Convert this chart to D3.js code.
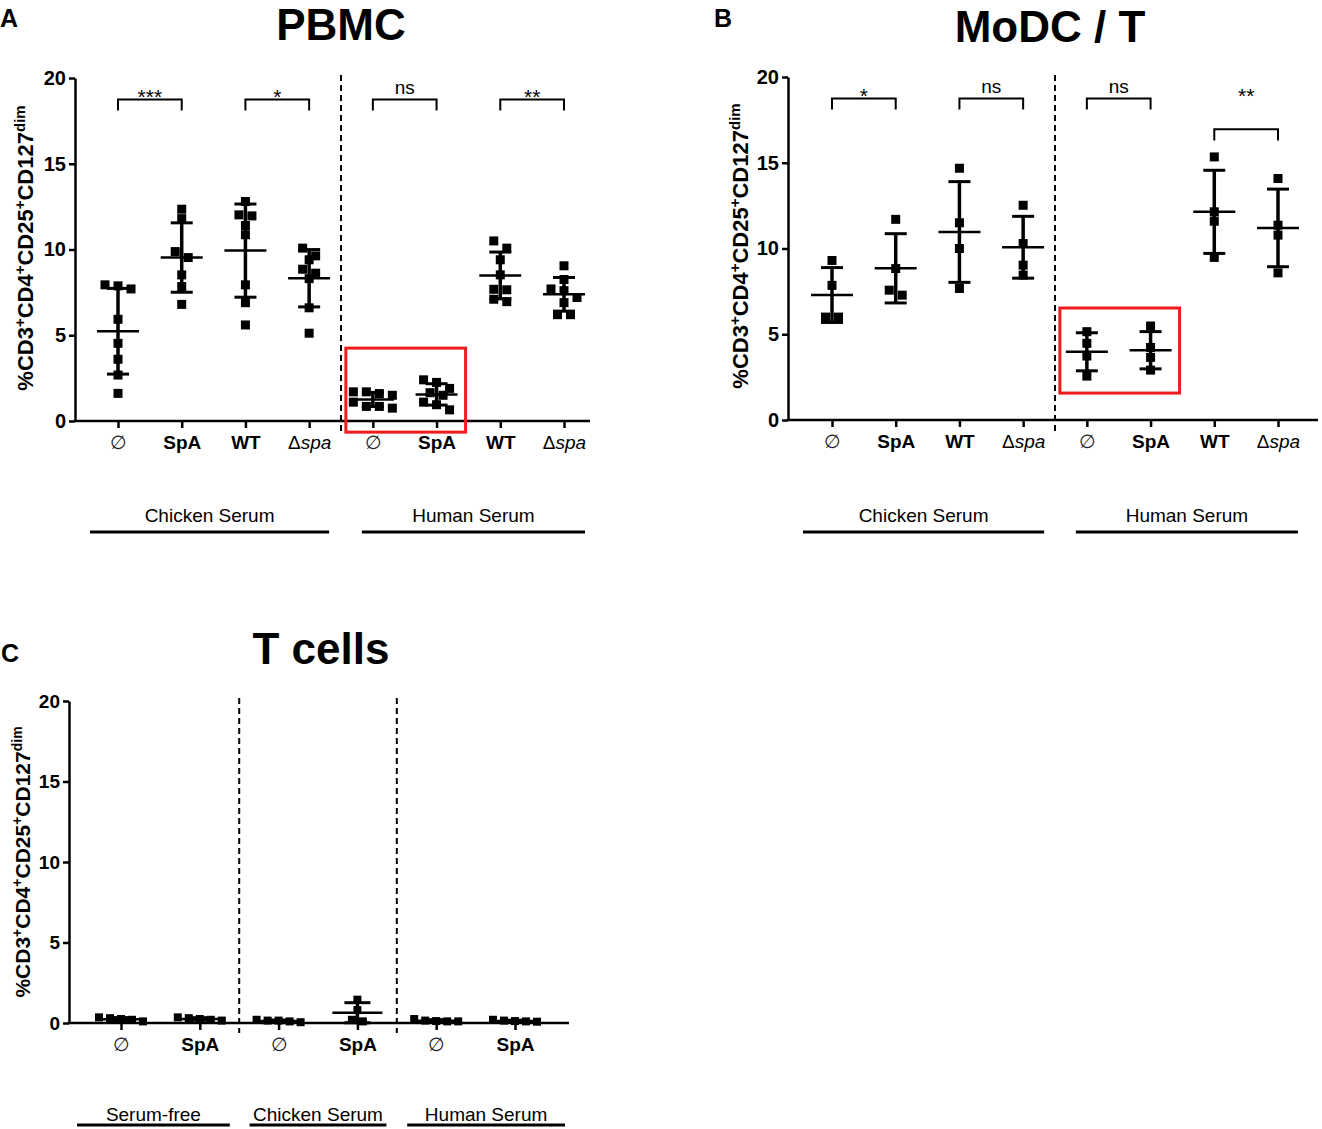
<!DOCTYPE html>
<html>
<head>
<meta charset="utf-8">
<script src="https://cdn.jsdelivr.net/npm/d3@7"></script>
<style>
  body { margin: 0; background: #fff; }
  svg { display: block; }
</style>
</head>
<body>
<svg id="fig" width="1322" height="1129"></svg>
<script>
// ---------- data ----------
const yTicks = [0, 5, 10, 15, 20];

// A: PBMC, % Treg per donor
const pbmcTicks = ["∅", "SpA", "WT", "Δspa", "∅", "SpA", "WT", "Δspa"];
const pbmcGroups = ["Chicken Serum", "Human Serum"];
const pbmcValues = [
    [7.94, 7.88, 7.7, 5.93, 4.53, 3.6, 2.68, 1.61],
    [12.35, 11.8, 9.88, 9.53, 8.52, 7.84, 6.8],
    [12.8, 12.02, 11.96, 11.4, 10.86, 7.94, 6.9, 5.6],
    [10.08, 9.63, 9.4, 8.85, 8.62, 8.3, 6.6, 5.12],
    [1.7, 1.7, 1.6, 1.5, 1.1, 0.85, 0.85, 0.75],
    [2.4, 2.25, 1.9, 1.65, 1.5, 1.1, 0.95, 0.65],
    [10.5, 10.08, 9.4, 8.52, 7.68, 7.65, 7.1, 6.96],
    [9.05, 8.25, 7.7, 7.6, 7.2, 6.9, 6.2, 6.2]
];
const pbmcStats = [
    { from: 0, to: 1, label: "***", at: 18.75 },
    { from: 2, to: 3, label: "*", at: 18.75 },
    { from: 4, to: 5, label: "ns", at: 18.75 },
    { from: 6, to: 7, label: "**", at: 18.75 }
];

// B: MoDC / T co-culture
const modcTicks = ["∅", "SpA", "WT", "Δspa", "∅", "SpA", "WT", "Δspa"];
const modcGroups = ["Chicken Serum", "Human Serum"];
const modcValues = [
    [9.3, 7.85, 6.0, 6.0],
    [11.7, 8.83, 7.57, 7.28],
    [14.68, 11.5, 10.0, 7.67],
    [12.52, 10.29, 9.03, 8.45],
    [5.15, 4.47, 3.73, 2.56],
    [5.48, 4.23, 3.65, 2.91],
    [15.34, 12.14, 11.59, 9.48],
    [14.08, 11.36, 10.78, 8.58]
];
const modcStats = [
    { from: 0, to: 1, label: "*", at: 18.75 },
    { from: 2, to: 3, label: "ns", at: 18.75 },
    { from: 4, to: 5, label: "ns", at: 18.75 },
    { from: 6, to: 7, label: "**", at: 16.95, labelAt: 18.75 }
];

// C: purified T cells
const tcellTicks = ["∅", "SpA", "∅", "SpA", "∅", "SpA"];
const tcellGroups = ["Serum-free", "Chicken Serum", "Human Serum"];
const tcellValues = [
    [0.35, 0.3, 0.25, 0.2, 0.1],
    [0.35, 0.3, 0.25, 0.2, 0.15],
    [0.2, 0.15, 0.15, 0.1, 0.05],
    [1.45, 0.8, 0.2, 0.1],
    [0.25, 0.15, 0.12, 0.1, 0.1],
    [0.2, 0.15, 0.12, 0.1, 0.08]
];
const tcellStats = [];

// ---------- layout ----------
const FONT = "'Liberation Sans', Arial, Helvetica, sans-serif";
const svg = d3.select("#fig").attr("font-family", FONT);

const panels = [
    { letter: "A", title: "PBMC", ticks: pbmcTicks, groups: pbmcGroups, values: pbmcValues, stats: pbmcStats,
      left: 75, right: 590, top: 78, bottom: 421, first: 118, last: 564,
      titleX: 341, titleY: 40, letterX: 0, letterY: 27, ylabX: 33, ylabY: 248, ylabSize: 22, tickFont: 20,
      groupLabelY: 522, groupLineY: 532, groupPads: [[28, 20], [11, 21]], dashTop: 75, dashBottom: 432,
      mark: 9, step: 13, meanW: 42, capW: 22,
      box: { from: 4, to: 5, lo: -0.65, hi: 4.25 } },
    { letter: "B", title: "MoDC / T", ticks: modcTicks, groups: modcGroups, values: modcValues, stats: modcStats,
      left: 788, right: 1318, top: 77, bottom: 420, first: 832, last: 1278,
      titleX: 1050, titleY: 42, letterX: 714, letterY: 27, ylabX: 748, ylabY: 246, ylabSize: 22, tickFont: 20,
      groupLabelY: 522, groupLineY: 532, groupPads: [[29, 21], [11, 20]], dashTop: 75, dashBottom: 432,
      mark: 9, step: 13, meanW: 42, capW: 22,
      box: { from: 4, to: 5, lo: 1.57, hi: 6.53 } },
    { letter: "C", title: "T cells", ticks: tcellTicks, groups: tcellGroups, values: tcellValues, stats: tcellStats,
      left: 69, right: 569, top: 701, bottom: 1023, first: 121, last: 515,
      titleX: 321, titleY: 664, letterX: 1, letterY: 662, ylabX: 30, ylabY: 862, ylabSize: 21, tickFont: 19,
      groupLabelY: 1121, groupLineY: 1125, groupPads: [[44, 30], [29, 29], [29, 50]], dashTop: 698, dashBottom: 1033,
      mark: 8, step: 11, meanW: 50, capW: 26,
      box: null }
];

// points with near-equal values are laid out side by side in rows (column scatter)
function swarm(vals, y, step, size) {
    const sorted = vals.slice().sort((a, b) => b - a);
    const rows = [];
    sorted.forEach(v => {
        const row = rows[rows.length - 1];
        if (row && Math.abs(y(v) - y(row[0])) < size) row.push(v);
        else rows.push([v]);
    });
    return rows.flatMap(row => row.map((v, j) => ({ v: v, dx: (j - (row.length - 1) / 2) * step })));
}

function drawPanel(cfg) {
    const n = cfg.ticks.length;
    const x = d3.scalePoint().domain(d3.range(n)).range([cfg.first, cfg.last]);
    const y = d3.scaleLinear().domain([0, 20]).range([cfg.bottom, cfg.top]);
    const g = svg.append("g");

    // titles
    g.append("text").attr("x", cfg.letterX).attr("y", cfg.letterY)
        .attr("font-size", 25).attr("font-weight", "bold").text(cfg.letter);
    g.append("text").attr("x", cfg.titleX).attr("y", cfg.titleY).attr("text-anchor", "middle")
        .attr("font-size", 44).attr("font-weight", "bold").text(cfg.title);

    // y axis
    const gy = g.append("g").attr("transform", "translate(" + cfg.left + ",0)")
        .call(d3.axisLeft(y).tickValues(yTicks).tickSize(6).tickSizeOuter(0).tickPadding(3));
    gy.attr("font-family", FONT);
    gy.select(".domain").attr("stroke-width", 2.5);
    gy.selectAll(".tick line").attr("stroke-width", 2.5);
    gy.selectAll(".tick text").attr("font-size", cfg.tickFont).attr("font-weight", "bold").attr("fill", "#000");

    // x axis
    const gx = g.append("g").attr("transform", "translate(0," + cfg.bottom + ")")
        .call(d3.axisBottom(x).tickSize(7).tickPadding(8).tickFormat(i => cfg.ticks[i]));
    gx.attr("font-family", FONT);
    gx.select(".domain").remove();
    gx.append("line").attr("x1", cfg.left - 1.25).attr("x2", cfg.right)
        .attr("stroke", "#000").attr("stroke-width", 2.5);
    gx.selectAll(".tick line").attr("stroke-width", 2.5);
    gx.selectAll(".tick text").each(function (i) {
        const t = d3.select(this).attr("font-size", 19).attr("fill", "#000");
        const lab = cfg.ticks[i];
        t.text(null);
        if (lab === "Δspa") {
            t.append("tspan").text("Δ");
            t.append("tspan").attr("font-style", "italic").text("spa");
        } else if (lab === "∅") {
            t.attr("fill", "#222").text(lab);
        } else {
            t.attr("font-weight", "bold").text(lab);
        }
    });

    // y label
    const yl = g.append("text")
        .attr("transform", "translate(" + cfg.ylabX + "," + cfg.ylabY + ") rotate(-90)")
        .attr("text-anchor", "middle").attr("font-weight", "bold").attr("font-size", cfg.ylabSize);
    const supSize = Math.round(cfg.ylabSize * 0.66);
    [["%CD3", "+"], ["CD4", "+"], ["CD25", "+"], ["CD127", "dim"]].forEach((p, k) => {
        yl.append("tspan").attr("dy", k === 0 ? 0 : 8).text(p[0]);
        yl.append("tspan").attr("dy", -8).attr("font-size", supSize).text(p[1]);
    });

    // group separators
    const per = n / cfg.groups.length;
    for (let k = 1; k < cfg.groups.length; k++) {
        const sx = (x(k * per - 1) + x(k * per)) / 2;
        g.append("line").attr("x1", sx).attr("x2", sx).attr("y1", cfg.dashTop).attr("y2", cfg.dashBottom)
            .attr("stroke", "#000").attr("stroke-width", 2).attr("stroke-dasharray", "6,4");
    }

    // group labels underneath
    cfg.groups.forEach((name, k) => {
        const x1 = x(k * per) - cfg.groupPads[k][0];
        const x2 = x(k * per + per - 1) + cfg.groupPads[k][1];
        g.append("line").attr("x1", x1).attr("x2", x2).attr("y1", cfg.groupLineY).attr("y2", cfg.groupLineY)
            .attr("stroke", "#000").attr("stroke-width", 3);
        g.append("text").attr("x", (x1 + x2) / 2).attr("y", cfg.groupLabelY).attr("text-anchor", "middle")
            .attr("font-size", 19).text(name);
    });

    // data points, mean and SD
    cfg.values.forEach((vals, i) => {
        const pts = swarm(vals, y, cfg.step, cfg.mark);
        g.selectAll(null).data(pts).join("rect")
            .attr("x", d => x(i) + d.dx - cfg.mark / 2)
            .attr("y", d => y(d.v) - cfg.mark / 2)
            .attr("width", cfg.mark).attr("height", cfg.mark).attr("fill", "#000");

        const m = d3.mean(vals), sd = d3.deviation(vals);
        const lo = Math.max(0, m - sd), hi = m + sd;
        const bar = g.append("g").attr("stroke", "#000");
        bar.append("line").attr("x1", x(i)).attr("x2", x(i)).attr("y1", y(lo)).attr("y2", y(hi))
            .attr("stroke-width", 3.5);
        bar.append("line").attr("x1", x(i) - cfg.meanW / 2).attr("x2", x(i) + cfg.meanW / 2)
            .attr("y1", y(m)).attr("y2", y(m)).attr("stroke-width", 2.5);
        [lo, hi].forEach(v => {
            bar.append("line").attr("x1", x(i) - cfg.capW / 2).attr("x2", x(i) + cfg.capW / 2)
                .attr("y1", y(v)).attr("y2", y(v)).attr("stroke-width", 3);
        });
    });

    // significance brackets
    cfg.stats.forEach(s => {
        const by = y(s.at), legY = y(s.at - 0.65);
        g.append("path")
            .attr("d", "M" + x(s.from) + "," + legY + "V" + by + "H" + x(s.to) + "V" + legY)
            .attr("fill", "none").attr("stroke", "#000").attr("stroke-width", 2);
        const ly = y(s.labelAt !== undefined ? s.labelAt : s.at);
        const isNs = s.label === "ns";
        g.append("text").attr("x", (x(s.from) + x(s.to)) / 2).attr("y", isNs ? ly - 5 : ly + 5)
            .attr("text-anchor", "middle").attr("font-size", isNs ? 19 : 21).text(s.label);
    });

    // red highlight box
    if (cfg.box) {
        const b = cfg.box;
        g.append("rect")
            .attr("x", x(b.from) - 27).attr("y", y(b.hi))
            .attr("width", x(b.to) - x(b.from) + 56).attr("height", y(b.lo) - y(b.hi))
            .attr("fill", "none").attr("stroke", "#ee1c1c").attr("stroke-width", 3);
    }
}

panels.forEach(drawPanel);
</script>
</body>
</html>
